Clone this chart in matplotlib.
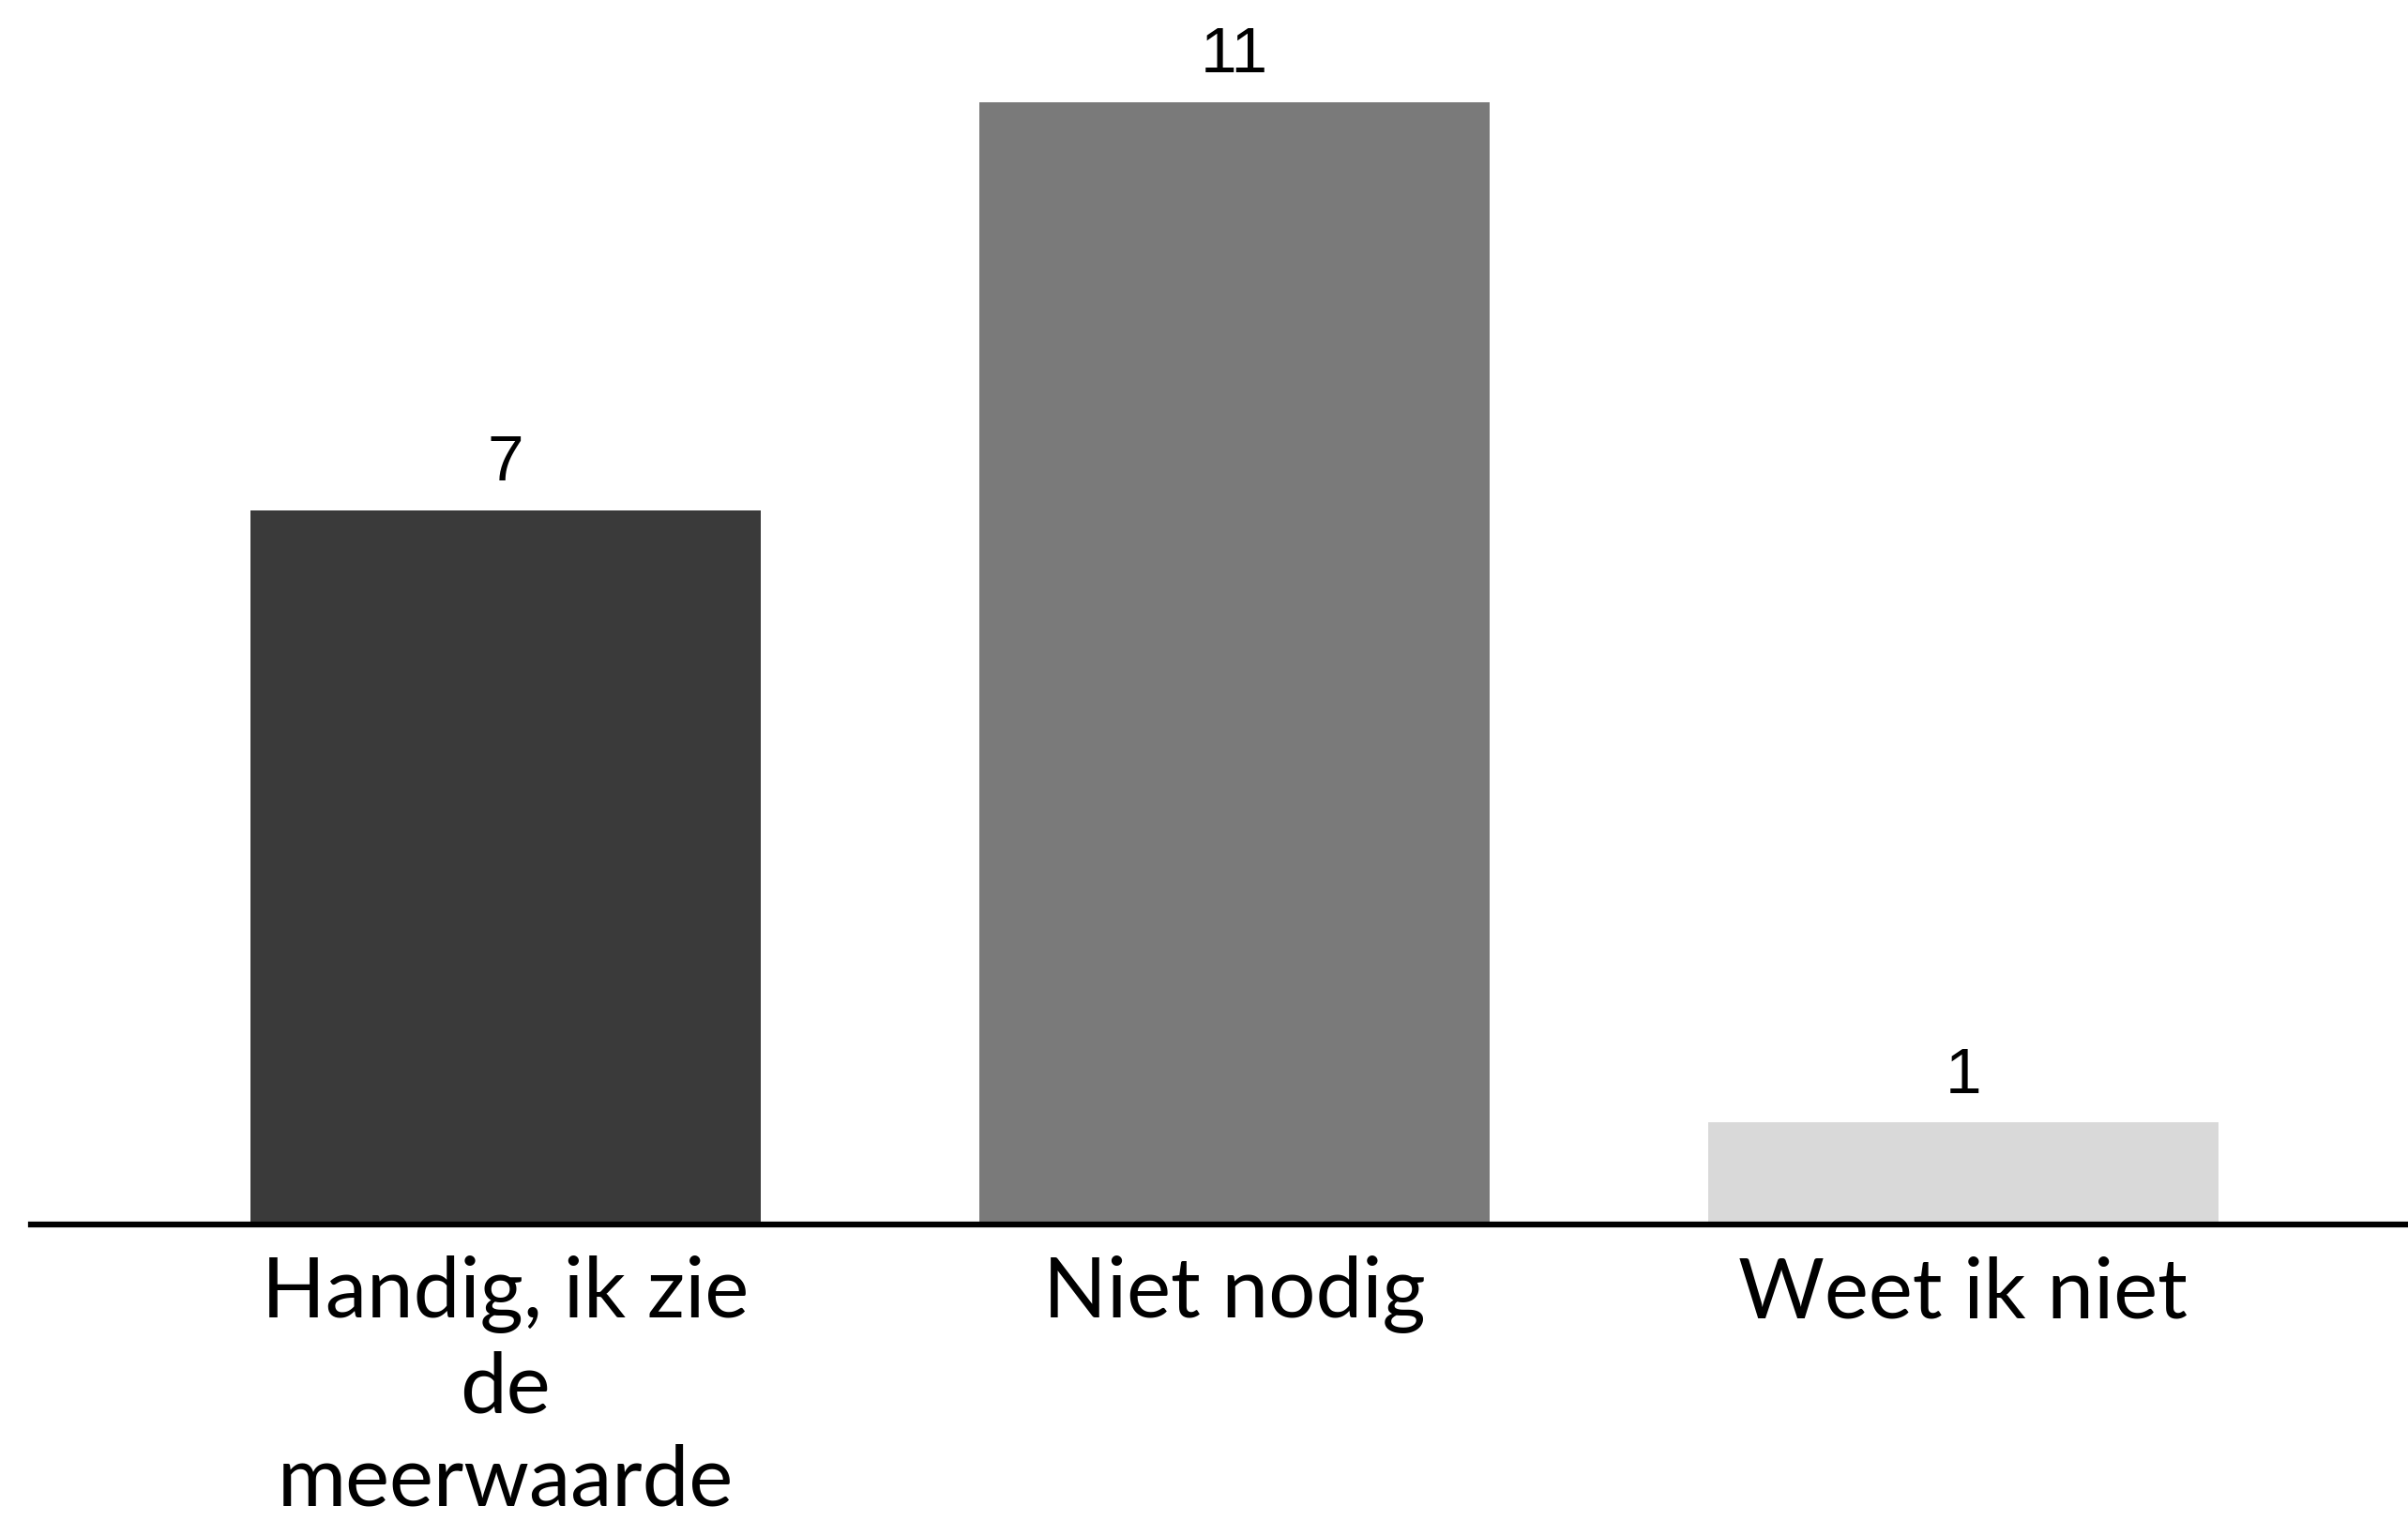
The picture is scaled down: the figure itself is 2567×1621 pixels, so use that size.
import matplotlib.pyplot as plt

categories = ["Handig, ik zie\nde\nmeerwaarde", "Niet nodig", "Weet ik niet"]
values = [7, 11, 1]
colors = ["#3a3a3a", "#7a7a7a", "#d9d9d9"]

fig = plt.figure(figsize=(25.67, 16.21), dpi=100)
ax = fig.add_axes([0.013, 0.195, 0.987, 0.805])

x = range(len(categories))
bars = ax.bar(x, values, width=0.7, color=colors)

# waarden boven de staven
for b, v in zip(bars, values):
    ax.text(b.get_x() + b.get_width() / 2, v + 0.16, str(v), ha='center', va='bottom',
            fontsize=50, family='Liberation Sans')

ax.set_xlim(-0.65, 2.61)
ax.set_ylim(0, 12)
ax.set_xticks(list(x))
ax.set_xticklabels(categories, fontsize=64, family='Lato', linespacing=1.27)
ax.tick_params(axis='x', length=0, pad=24)
ax.set_yticks([])

for s in ['top', 'right', 'left']:
    ax.spines[s].set_visible(False)
ax.spines['bottom'].set_linewidth(4.5)

plt.savefig('out.png', dpi=100)
